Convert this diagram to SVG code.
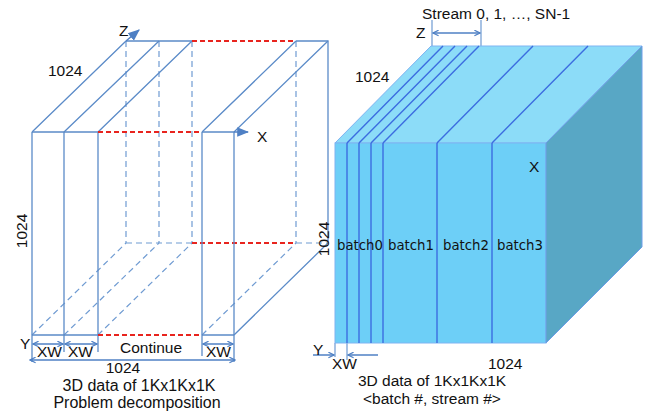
<svg xmlns="http://www.w3.org/2000/svg" width="651" height="416" viewBox="0 0 651 416">
  <style>
    text { font-family: "Liberation Sans", Arial, sans-serif; font-size: 15.5px; fill: #111; }
    .cap { font-size: 16px; }
    .cap2 { font-size: 15.5px; }
    .batch { font-family: "DejaVu Sans", sans-serif; font-size: 13.3px; }
    .edge { stroke: #5b8bc8; stroke-width: 1.3; fill: none; }
    .hid { stroke: #6f9bd2; stroke-width: 1.2; fill: none; stroke-dasharray: 6 4; }
    .red { stroke: #e8241e; stroke-width: 2; fill: none; stroke-dasharray: 5 3; }
    .dim { stroke: #4f80c4; stroke-width: 1.5; fill: none; }
    .tick { stroke: #6f9bd2; stroke-width: 1.2; fill: none; }
    .stripe { stroke: #3c6de0; stroke-width: 1.4; fill: none; }
  </style>
  <defs>
    <marker id="ah" viewBox="0 0 10 10" refX="9" refY="5" markerWidth="7" markerHeight="7" orient="auto-start-reverse" markerUnits="userSpaceOnUse">
      <path d="M1,1 L9,5 L1,9" fill="none" stroke="#4f80c4" stroke-width="1.8"/>
    </marker>
    <marker id="axis" viewBox="0 0 10 10" refX="9" refY="5" markerWidth="12" markerHeight="12" orient="auto" markerUnits="userSpaceOnUse">
      <path d="M0,1 L10,5 L0,9 Z" fill="#4f80c4"/>
    </marker>
  </defs>

  <!-- Left: wireframe cube split into XW-wide slabs -->
  <g id="cube-decomposition">
    <!-- hidden back edges -->
    <path class="hid" d="M126,41 V243 M159,41 V243 M192,41 V243 M296,41 V243"/>
    <path class="hid" d="M126,243 H192 M296,243 H328"/>
    <path class="hid" d="M32,335 L126,243 M64,335 L159,243 M98,335 L192,243 M202,335 L296,243"/>
    <path class="red" d="M192,243 H296"/>
    <!-- visible edges -->
    <path class="edge" d="M32,132 V362 M64,132 V352 M98,132 V352 M202,132 V356 M234,132 V362"/>
    <path class="edge" d="M32,132 H98 M202,132 H234"/>
    <path class="edge" d="M32,335 H98 M202,335 H234"/>
    <path class="edge" d="M32,132 L126,41 M64,132 L159,41 M98,132 L192,41 M202,132 L296,41 M234,132 L328,41"/>
    <path class="edge" d="M126,41 H192 M296,41 H328 V243 L234,335"/>
    <path class="red" d="M98,132 H202 M192,41 H296 M98,335 H202"/>
  </g>

  <g id="connectors">
    <!-- axes of the left cube -->
    <line class="dim" x1="234" y1="132" x2="248" y2="132" marker-end="url(#axis)"/>
    <line class="dim" x1="126" y1="41" x2="139" y2="30" marker-end="url(#axis)"/>
    <!-- slab widths and total width -->
    <line class="dim" x1="33" y1="344" x2="63" y2="344" marker-start="url(#ah)" marker-end="url(#ah)"/>
    <line class="dim" x1="65" y1="344" x2="97" y2="344" marker-start="url(#ah)" marker-end="url(#ah)"/>
    <line class="dim" x1="203" y1="344" x2="233" y2="344" marker-start="url(#ah)" marker-end="url(#ah)"/>
    <line class="dim" x1="30" y1="360" x2="235" y2="360" marker-start="url(#ah)" marker-end="url(#ah)"/>
    <!-- stream range of the right cube -->
    <path class="tick" d="M432,20 V46 M481,20 V46"/>
    <line class="dim" x1="433" y1="33" x2="480" y2="33" marker-start="url(#ah)" marker-end="url(#ah)"/>
    <!-- XW of the right cube -->
    <path class="tick" d="M335,343 V357 M347,343 V360"/>
    <line class="dim" x1="313" y1="355" x2="334" y2="355" marker-end="url(#ah)"/>
    <line class="dim" x1="378" y1="355" x2="348" y2="355" marker-end="url(#ah)"/>
  </g>

  <!-- Right: solid cube cut into batches -->
  <g id="cube-batches">
    <polygon points="335,143 431,46 642,46 546,143" fill="#8cdcf8" stroke="#7fb4f2" stroke-width="1"/>
    <rect x="335" y="143" width="211" height="200" fill="#6dcff7" stroke="#7fb4f2" stroke-width="1"/>
    <polygon points="546,143 642,46 642,247 546,343" fill="#58a7c5" stroke="#6f9ee8" stroke-width="1"/>
    <path class="stripe" d="M347,143 V343 M359,143 V343 M371,143 V343 M383,143 V343 M437,143 V343 M492,143 V343"/>
    <path class="stripe" d="M347,143 L443,46 M359,143 L455,46 M371,143 L467,46 M383,143 L479,46 M437,143 L533,46 M492,143 L588,46"/>
  </g>

  <g id="labels-left">
    <text x="48" y="76">1024</text>
    <text x="119" y="36">Z</text>
    <text x="257" y="142">X</text>
    <text transform="translate(27,231) rotate(-90)" text-anchor="middle">1024</text>
    <text x="20" y="349">Y</text>
    <text x="37" y="357">XW</text>
    <text x="68" y="357">XW</text>
    <text x="151" y="353" text-anchor="middle">Continue</text>
    <text x="206" y="357">XW</text>
    <text x="123" y="373" text-anchor="middle">1024</text>
    <text class="cap" x="139" y="391" text-anchor="middle">3D data of 1Kx1Kx1K</text>
    <text class="cap" x="137" y="408" text-anchor="middle">Problem decomposition</text>
  </g>

  <g id="labels-right">
    <text x="422" y="19">Stream 0, 1, …, SN-1</text>
    <text x="416" y="38">Z</text>
    <text x="355" y="82">1024</text>
    <text x="529" y="172">X</text>
    <text transform="translate(329,239) rotate(-90)" text-anchor="middle">1024</text>
    <text class="batch" x="337" y="250">batch0</text>
    <text class="batch" x="388" y="250">batch1</text>
    <text class="batch" x="443" y="250">batch2</text>
    <text class="batch" x="497" y="250">batch3</text>
    <text x="313" y="355">Y</text>
    <text x="332" y="369">XW</text>
    <text x="488" y="369">1024</text>
    <text class="cap2" x="432" y="386" text-anchor="middle">3D data of 1Kx1Kx1K</text>
    <text class="cap2" x="432" y="404" text-anchor="middle">&lt;batch #, stream #&gt;</text>
  </g>
</svg>
